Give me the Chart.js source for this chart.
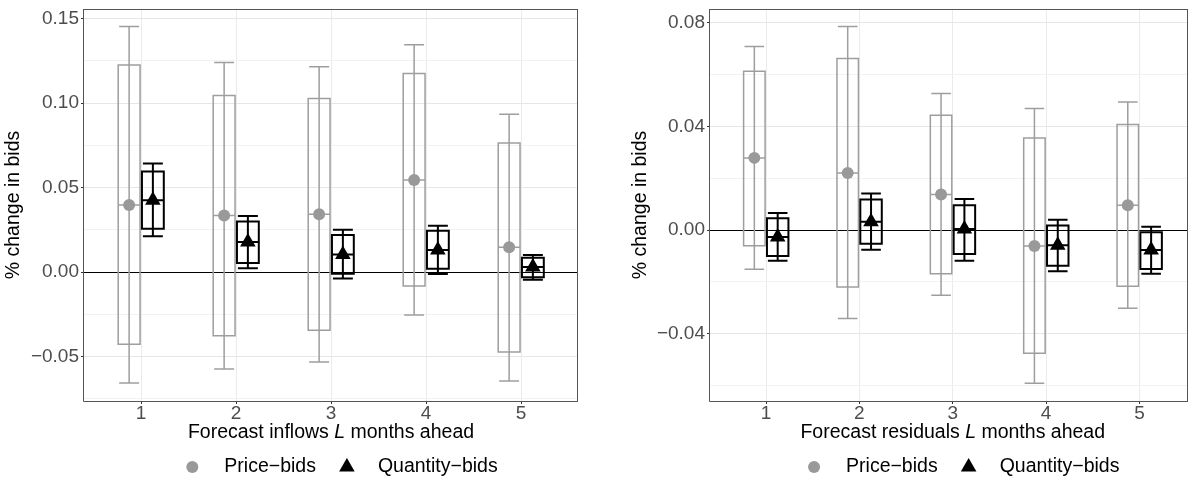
<!DOCTYPE html>
<html>
<head>
<meta charset="utf-8">
<script src="https://cdn.jsdelivr.net/npm/chart.js@4.4.1/dist/chart.umd.min.js"></script>
<style>
  body { margin: 0; background: #fff; }
  #wrap { position: relative; width: 1197px; height: 480px; }
  #p1 { position: absolute; left: 0; top: 0; }
  #p2 { position: absolute; left: 598px; top: 0; }
</style>
</head>
<body>
<div id="wrap">
  <canvas id="p1" width="598" height="480"></canvas>
  <canvas id="p2" width="599" height="480"></canvas>
</div>
<script>
const categories = [1, 2, 3, 4, 5];

// Forecast inflows panel
const inflowPriceEst   = [0.0398, 0.0335, 0.0343, 0.0545, 0.0147];
const inflowPriceBoxLo = [-0.0427, -0.0376, -0.0343, -0.0082, -0.0472];
const inflowPriceBoxHi = [0.1226, 0.1045, 0.1028, 0.1175, 0.0765];
const inflowPriceCiLo  = [-0.0655, -0.0572, -0.0531, -0.0253, -0.0643];
const inflowPriceCiHi  = [0.1453, 0.1241, 0.1216, 0.1345, 0.0935];
const inflowQtyEst   = [0.0426, 0.0179, 0.0104, 0.0132, 0.0030];
const inflowQtyBoxLo = [0.0257, 0.0055, -0.0009, 0.0020, -0.0030];
const inflowQtyBoxHi = [0.0596, 0.0300, 0.0220, 0.0245, 0.0085];
const inflowQtyCiLo  = [0.0212, 0.0024, -0.0037, -0.0010, -0.0045];
const inflowQtyCiHi  = [0.0643, 0.0333, 0.0251, 0.0275, 0.0102];
const inflowTicks = [-0.05, 0, 0.05, 0.10, 0.15];

// Forecast residuals panel
const residPriceEst   = [0.0279, 0.0221, 0.0138, -0.0061, 0.0096];
const residPriceBoxLo = [-0.0060, -0.0220, -0.0169, -0.0476, -0.0217];
const residPriceBoxHi = [0.0614, 0.0663, 0.0444, 0.0356, 0.0408];
const residPriceCiLo  = [-0.0151, -0.0341, -0.0252, -0.0591, -0.0302];
const residPriceCiHi  = [0.0709, 0.0786, 0.0528, 0.0470, 0.0495];
const residQtyEst   = [-0.0027, 0.0032, 0.0004, -0.0058, -0.0077];
const residQtyBoxLo = [-0.0100, -0.0053, -0.0092, -0.0138, -0.0150];
const residQtyBoxHi = [0.0046, 0.0118, 0.0096, 0.0018, -0.0008];
const residQtyCiLo  = [-0.0118, -0.0076, -0.0118, -0.0159, -0.0169];
const residQtyCiHi  = [0.0066, 0.0141, 0.0120, 0.0040, 0.0013];
const residTicks = [-0.04, 0, 0.04, 0.08];

const FONT = '"Liberation Sans", Arial, Helvetica, sans-serif';
const GREY = '#9e9e9e';
const TITLE_SIZE = 19.5;
const TICK_SIZE = 19;

function fmtTick(v) {
  if (Math.abs(v) < 1e-9) return '0.00';
  const s = Math.abs(v).toFixed(2);
  return v < 0 ? '\u2212' + s : s;
}

// major ticks plus the minor (midpoint) grid lines that fall inside the range
function gridValues(majors, min, max) {
  const step = majors[1] - majors[0];
  const out = [];
  for (let v = majors[0] - step / 2; v <= max + 1e-9; v += step / 2) {
    if (v >= min - 1e-9) out.push(Math.round(v * 1e6) / 1e6);
  }
  return out;
}

function isMajor(v, majors) {
  return majors.some(m => Math.abs(m - v) < 1e-7);
}

function drawMarker(ctx, style, x, y, r, color) {
  ctx.fillStyle = color;
  ctx.beginPath();
  if (style === 'circle') {
    ctx.arc(x, y, r, 0, Math.PI * 2);
  } else {
    for (let k = 0; k < 3; k++) {
      const a = k * 2 * Math.PI / 3;
      const px = x + Math.sin(a) * r, py = y - Math.cos(a) * r;
      if (k === 0) ctx.moveTo(px, py); else ctx.lineTo(px, py);
    }
    ctx.closePath();
  }
  ctx.fill();
}

const intervalPlugin = {
  id: 'intervals',
  beforeDatasetsDraw(chart) {
    const { ctx, chartArea: a, scales: { x, y } } = chart;
    const o = chart.options.plugins.intervals;
    ctx.save();
    const y0 = Math.round(y.getPixelForValue(0)) + 0.5;
    ctx.strokeStyle = '#000';
    ctx.lineWidth = 1;
    ctx.beginPath();
    ctx.moveTo(a.left, y0);
    ctx.lineTo(a.right, y0);
    ctx.stroke();

    const halfBox = (x.getPixelForValue(o.boxWidth) - x.getPixelForValue(0)) / 2;
    const halfCap = (x.getPixelForValue(o.capWidth) - x.getPixelForValue(0)) / 2;
    o.series.forEach(s => {
      ctx.strokeStyle = s.color;
      ctx.lineWidth = s.lineWidth;
      categories.forEach((c, i) => {
        const cx = x.getPixelForValue(c + s.offset);
        const cLo = y.getPixelForValue(s.ciLo[i]);
        const cHi = y.getPixelForValue(s.ciHi[i]);
        const bLo = y.getPixelForValue(s.boxLo[i]);
        const bHi = y.getPixelForValue(s.boxHi[i]);
        const ym = y.getPixelForValue(s.est[i]);
        ctx.beginPath();
        ctx.moveTo(cx, cLo); ctx.lineTo(cx, cHi);
        ctx.moveTo(cx - halfCap, cLo); ctx.lineTo(cx + halfCap, cLo);
        ctx.moveTo(cx - halfCap, cHi); ctx.lineTo(cx + halfCap, cHi);
        ctx.moveTo(cx - halfBox, ym); ctx.lineTo(cx + halfBox, ym);
        ctx.rect(cx - halfBox, bHi, 2 * halfBox, bLo - bHi);
        ctx.stroke();
      });
    });
    ctx.restore();
  },
  afterDraw(chart) {
    const { ctx, chartArea: a, scales: { x } } = chart;
    const o = chart.options.plugins.intervals;
    ctx.save();

    // panel border
    ctx.strokeStyle = '#555';
    ctx.lineWidth = 1;
    ctx.beginPath();
    ctx.moveTo(a.left - 0.5, a.top + 0.5);
    ctx.lineTo(a.right, a.top + 0.5);
    ctx.moveTo(a.left - 0.5, a.top);
    ctx.lineTo(a.left - 0.5, a.bottom + 0.5);
    ctx.lineTo(a.right, a.bottom + 0.5);
    if (a.right < chart.width - 1) {
      ctx.moveTo(a.right - 0.5, a.top);
      ctx.lineTo(a.right - 0.5, a.bottom + 0.5);
    }
    ctx.stroke();

    const center = x.getPixelForValue(3);

    // x axis title with italic L
    const ty = a.bottom + 32;
    const fonts = o.xTitle.map(p => (p[1] ? 'italic ' : '') + TITLE_SIZE + 'px ' + FONT);
    const widths = o.xTitle.map((p, i) => { ctx.font = fonts[i]; return ctx.measureText(p[0]).width; });
    let tx = center - widths.reduce((s, w) => s + w, 0) / 2;
    ctx.fillStyle = '#000';
    ctx.textBaseline = 'middle';
    ctx.textAlign = 'left';
    o.xTitle.forEach((p, i) => {
      ctx.font = fonts[i];
      ctx.fillText(p[0], tx, ty);
      tx += widths[i];
    });

    // legend
    const ly = a.bottom + 66;
    ctx.font = TITLE_SIZE + 'px ' + FONT;
    const [s1, s2] = o.series;
    const w1 = ctx.measureText(s1.label).width;
    const w2 = ctx.measureText(s2.label).width;
    const total = 32 + w1 + 31 + 31 + w2;
    const k1 = center + 14 - total / 2;
    const k2 = k1 + 32 + w1 + 31;
    drawMarker(ctx, s1.marker, k1, ly, s1.radius, s1.pointColor);
    drawMarker(ctx, s2.marker, k2, ly, s2.radius, s2.pointColor);
    ctx.fillStyle = '#000';
    ctx.fillText(s1.label, k1 + 32, ly);
    ctx.fillText(s2.label, k2 + 31, ly);
    ctx.restore();
  }
};

function makePanel(id, p) {
  const series = [
    { label: 'Price\u2212bids', est: p.priceEst, boxLo: p.priceBoxLo, boxHi: p.priceBoxHi,
      ciLo: p.priceCiLo, ciHi: p.priceCiHi, offset: -0.125, color: GREY, lineWidth: 1.5,
      marker: 'circle', radius: 6, pointColor: '#999999' },
    { label: 'Quantity\u2212bids', est: p.qtyEst, boxLo: p.qtyBoxLo, boxHi: p.qtyBoxHi,
      ciLo: p.qtyCiLo, ciHi: p.qtyCiHi, offset: 0.125, color: '#000', lineWidth: 2,
      marker: 'triangle', radius: 9, pointColor: '#000' }
  ];
  const yGrid = gridValues(p.majors, p.yMin, p.yMax);

  return new Chart(document.getElementById(id), {
    type: 'scatter',
    data: {
      datasets: series.map(s => ({
        label: s.label,
        data: categories.map((c, i) => ({ x: c + s.offset, y: s.est[i] })),
        pointStyle: s.marker,
        pointRadius: s.radius,
        pointHoverRadius: s.radius,
        pointBackgroundColor: s.pointColor,
        pointBorderWidth: 0
      }))
    },
    options: {
      responsive: false,
      animation: false,
      events: [],
      layout: { padding: { top: 7, left: 0, right: p.padRight, bottom: 0 } },
      plugins: {
        legend: { display: false },
        tooltip: { enabled: false },
        intervals: { series: series, boxWidth: 0.23, capWidth: 0.21, xTitle: p.xTitle }
      },
      scales: {
        x: {
          type: 'linear',
          min: 0.4,
          max: p.xMax,
          bounds: 'data',
          afterBuildTicks: s => { s.ticks = categories.map(v => ({ value: v })); },
          afterFit: s => { s.height = 79; s.paddingLeft = 0; s.paddingRight = 0; },
          border: { display: false },
          grid: { color: '#ebebeb', lineWidth: 1, tickLength: 3, tickColor: '#333' },
          ticks: {
            autoSkip: false,
            maxRotation: 0,
            padding: 0,
            color: '#4d4d4d',
            font: { family: FONT, size: TICK_SIZE, lineHeight: 1 },
            callback: v => String(v)
          }
        },
        y: {
          type: 'linear',
          min: p.yMin,
          max: p.yMax,
          bounds: 'data',
          afterBuildTicks: s => { s.ticks = yGrid.map(v => ({ value: v })); },
          afterFit: s => { s.width = p.yWidth; s.paddingTop = 0; s.paddingBottom = 0; },
          border: { display: false },
          grid: {
            lineWidth: 1,
            tickLength: 3,
            color: c => (c.tick && isMajor(c.tick.value, p.majors)) ? '#e6e6e6' : '#f2f2f2',
            tickColor: c => (c.tick && isMajor(c.tick.value, p.majors)) ? '#333' : 'rgba(0,0,0,0)'
          },
          ticks: {
            autoSkip: false,
            padding: 2,
            color: '#4d4d4d',
            font: { family: FONT, size: TICK_SIZE, lineHeight: 1 },
            callback: v => isMajor(v, p.majors) ? fmtTick(v) : ''
          },
          title: {
            display: true,
            text: '% change in bids',
            color: '#000',
            font: { family: FONT, size: TITLE_SIZE },
            padding: { top: p.yTitlePad, bottom: 0 }
          }
        }
      }
    },
    plugins: [intervalPlugin]
  });
}

makePanel('p1', {
  priceEst: inflowPriceEst, priceBoxLo: inflowPriceBoxLo, priceBoxHi: inflowPriceBoxHi,
  priceCiLo: inflowPriceCiLo, priceCiHi: inflowPriceCiHi,
  qtyEst: inflowQtyEst, qtyBoxLo: inflowQtyBoxLo, qtyBoxHi: inflowQtyBoxHi,
  qtyCiLo: inflowQtyCiLo, qtyCiHi: inflowQtyCiHi,
  majors: inflowTicks, yMin: -0.0762, yMax: 0.1557, xMax: 5.6,
  yWidth: 84, yTitlePad: 2, padRight: 20,
  xTitle: [['Forecast inflows ', false], ['L', true], [' months ahead', false]]
});

makePanel('p2', {
  priceEst: residPriceEst, priceBoxLo: residPriceBoxLo, priceBoxHi: residPriceBoxHi,
  priceCiLo: residPriceCiLo, priceCiHi: residPriceCiHi,
  qtyEst: residQtyEst, qtyBoxLo: residQtyBoxLo, qtyBoxHi: residQtyBoxHi,
  qtyCiLo: residQtyCiLo, qtyCiHi: residQtyCiHi,
  majors: residTicks, yMin: -0.066, yMax: 0.0854, xMax: 5.52,
  yWidth: 112, yTitlePad: 31, padRight: 0,
  xTitle: [['Forecast residuals ', false], ['L', true], [' months ahead', false]]
});
</script>
</body>
</html>
